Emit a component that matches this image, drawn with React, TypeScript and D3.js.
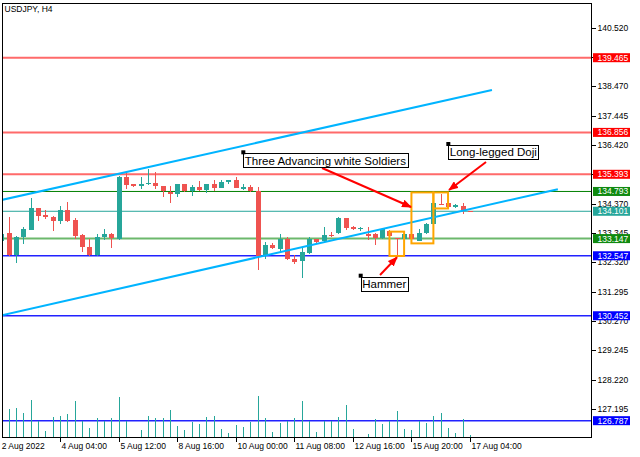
import { useEffect } from "react";
import * as d3 from "d3";

// USDJPY H4, 2 Aug 20:00 .. 17 Aug 04:00 (65 bars)
const symbol = "USDJPY, H4";

const opens = [
  133.07, 133.33, 132.57, 133.19, 133.45, 134.2, 133.96, 133.91, 133.77, 134.15,
  133.8, 133.27, 132.84, 132.57, 133.19, 133.31, 133.13, 135.29, 135.04, 134.98,
  135.04, 135.08, 134.98, 134.76, 134.69, 135.05, 134.81, 134.94, 134.84, 135.05,
  134.93, 135.11, 135.19, 134.89, 134.94, 134.81, 132.56, 132.94, 132.79, 133.13,
  132.43, 132.36, 132.63, 133.13, 133.06, 133.27, 133.35, 133.86, 133.56, 133.49,
  133.3, 133.3, 133.16, 133.4, 133.16, 133.13, 133.3, 133.08, 133.33, 133.65,
  134.36, 134.38, 134.24, 134.27, 134.11,
];
const highs = [
  133.33, 133.91, 133.25, 133.54, 134.55, 134.22, 134.15, 133.93, 134.3, 134.41,
  133.88, 133.3, 133.13, 133.31, 133.47, 133.33, 135.33, 135.46, 135.06, 135.29,
  135.58, 135.46, 134.99, 134.98, 135.07, 135.07, 135.02, 135.16, 135.07, 135.19,
  135.19, 135.21, 135.29, 135.06, 135.02, 134.95, 133.02, 132.98, 133.29, 133.21,
  132.57, 132.81, 133.21, 133.15, 133.54, 133.39, 133.91, 133.88, 133.58, 133.56,
  133.56, 133.33, 133.51, 133.45, 133.18, 133.33, 133.33, 133.47, 133.68, 134.4,
  134.69, 134.4, 134.36, 134.4, 134.12,
];
const lows = [
  133.05, 132.54, 132.3, 132.96, 133.44, 133.77, 133.82, 133.42, 133.67, 133.74,
  133.13, 132.69, 132.54, 132.55, 133.1, 132.83, 133.1, 134.87, 134.96, 134.87,
  135.03, 134.87, 134.59, 134.38, 134.61, 134.79, 134.65, 134.82, 134.73, 134.81,
  134.91, 135.04, 134.91, 134.84, 134.79, 132.05, 132.43, 132.8, 132.69, 132.41,
  132.25, 131.76, 132.6, 132.98, 133.03, 133.22, 133.3, 133.45, 133.45, 133.42,
  133.1, 132.93, 133.13, 133.15, 132.55, 133.1, 133.1, 133.05, 133.3, 133.62,
  134.31, 134.22, 134.22, 134.01, 134.09,
];
const closes = [
  133.31, 132.57, 133.21, 133.47, 134.2, 133.94, 133.89, 133.77, 134.15, 133.76,
  133.25, 132.84, 132.57, 133.21, 133.31, 133.16, 135.29, 135.02, 134.98, 135.05,
  135.08, 134.98, 134.81, 134.69, 135.05, 134.81, 134.94, 134.84, 135.05, 134.9,
  135.13, 135.19, 134.93, 134.94, 134.81, 132.54, 132.91, 132.83, 133.13, 132.43,
  132.34, 132.67, 133.13, 133.02, 133.27, 133.24, 133.86, 133.51, 133.47, 133.51,
  133.25, 133.16, 133.47, 133.24, 133.13, 133.3, 133.13, 133.35, 133.65, 134.38,
  134.34, 134.24, 134.31, 134.13, 134.1,
];
const volumes = [
  5000, 7180, 7350, 6250, 9430, 4180, 1680, 5250, 5500, 5930,
  9180, 4250, 2500, 5000, 4250, 4850, 10100, 4250, 250, 1930,
  5500, 5000, 5000, 6930, 3000, 1930, 3850, 3430, 5250, 5500,
  2100, 1250, 3180, 2750, 3850, 10500, 4850, 1350, 3750, 4180,
  4850, 9180, 4180, 1350, 4180, 4180, 5250, 8180, 2100, 250,
  930, 4600, 3430, 4180, 6680, 2180, 1930, 4180, 3600, 5500,
  6100, 2500, 1250, 4600, 680,
];

const firstTimeLabel = "2 Aug 2022";
const timeTickIndex = [8, 16, 24, 32, 40, 48, 56, 64];
const timeTickLabels = [
  "4 Aug 04:00", "5 Aug 12:00", "8 Aug 16:00", "10 Aug 00:00",
  "11 Aug 08:00", "12 Aug 16:00", "15 Aug 20:00", "17 Aug 04:00",
];
const priceTicks = [
  140.52, 139.495, 138.47, 137.445, 136.42, 135.395, 134.37, 133.345, 132.32,
  131.295, 130.27, 129.245, 128.22, 127.195,
];

const redLevels = [139.465, 136.856, 135.393];
const darkGreenLevels = [134.793];
const tealLevels = [134.101];
const lightGreenLevels = [133.147];
const blueLevels = [132.547, 130.452, 126.787];

// channel lines: [barIndex, price]
const channelUpper = [[0, 134.495], [67, 138.337]];
const channelLower = [[0, 130.468], [76, 134.872]];

// pattern boxes: [fromBar, toBar, topPrice, bottomPrice]
const patternBoxes = [
  [53, 55, 133.39, 132.54],
  [56, 59, 134.76, 132.98],
  [59, 61, 134.76, 134.2],
];

const labelTexts = ["Three Advancing white Soldiers", "Long-legged Doji", "Hammer"];
const labelAnchors = [[33.04, 136.126], [61.04, 136.416], [49.07, 131.816]];

// arrows: [fromBar, fromPrice, toBar, toPrice]
const arrows = [
  [43.79, 135.613, 55.95, 134.25],
  [66.19, 135.822, 61.14, 134.844],
  [51.71, 131.875, 54.03, 132.493],
];

const W = 640;
const H = 457;
const plot = { left: 2, top: 3, right: 592, bottom: 437.7 };
const BULL = "#26A69A";
const BEAR = "#EF5350";
const axisFont = "'Liberation Sans', Arial, sans-serif";

let measureCtx: CanvasRenderingContext2D | null = null;
function textWidth(t: string, font: string) {
  if (!measureCtx) measureCtx = document.createElement("canvas").getContext("2d");
  if (!measureCtx) return t.length * 6;
  measureCtx.font = font;
  return measureCtx.measureText(t).width;
}

export default function App() {
  useEffect(() => {
    document.body.style.margin = "0";
  }, []);

  const x = d3.scaleLinear().domain([0, 64]).range([1.43, 470]);
  const y = d3.scaleLinear().domain([127.195, 140.52]).range([409, 27.5]);
  const yVol = d3.scaleLinear().domain([0, 10500]).range([plot.bottom, 395.7]);
  const fmt = d3.format(".3f");
  const line = d3
    .line<number[]>()
    .x((d) => x(d[0]))
    .y((d) => y(d[1]));

  const levelGroups = [
    { prices: redLevels, stroke: "#FF6A6A", width: 2, bg: "#FF0000" },
    { prices: darkGreenLevels, stroke: "#008000", width: 1, bg: "#108A10" },
    { prices: tealLevels, stroke: "#26A69A", width: 1, bg: "#26A69A" },
    { prices: lightGreenLevels, stroke: "#6CB86C", width: 2, bg: "#108A10" },
    { prices: blueLevels, stroke: "#2222FF", width: 1.4, bg: "#0000FF" },
  ];

  const annFont = "11.5px 'Liberation Sans', Arial, sans-serif";

  return (
    <svg width={W} height={H} style={{ display: "block", background: "#fff" }}>
      <defs>
        <clipPath id="plotClip">
          <rect
            x={plot.left}
            y={plot.top}
            width={plot.right - plot.left}
            height={plot.bottom - plot.top}
          />
        </clipPath>
        <marker
          id="arrowHead"
          viewBox="0 0 10 8"
          refX="9"
          refY="4"
          markerWidth="10"
          markerHeight="8"
          markerUnits="userSpaceOnUse"
          orient="auto"
        >
          <path d="M0,0 L10,4 L0,8 Z" fill="#FF0000" />
        </marker>
      </defs>

      <text x={4.5} y={11.7} fontFamily={axisFont} fontSize={8.5} fill="#000">
        {symbol}
      </text>

      <g clipPath="url(#plotClip)">
        {/* horizontal levels */}
        {levelGroups.map((g, gi) =>
          g.prices.map((p, i) => (
            <line
              key={`lv${gi}-${i}`}
              x1={plot.left}
              x2={plot.right}
              y1={y(p)}
              y2={y(p)}
              stroke={g.stroke}
              strokeWidth={g.width}
            />
          ))
        )}

        {/* volumes */}
        <g shapeRendering="crispEdges">
          {volumes.map((v, i) => {
            const cx = Math.round(x(i)) + 0.5;
            return (
              <line
                key={`v${i}`}
                x1={cx}
                x2={cx}
                y1={plot.bottom}
                y2={yVol(v)}
                stroke={BULL}
                strokeWidth={1}
              />
            );
          })}
        </g>

        {/* candles */}
        <g shapeRendering="crispEdges">
          {opens.map((o, i) => {
            const c = closes[i];
            const col = c >= o ? BULL : BEAR;
            const cx = Math.round(x(i));
            const top = y(Math.max(o, c));
            const bot = y(Math.min(o, c));
            return (
              <g key={`c${i}`}>
                <line
                  x1={cx + 0.5}
                  x2={cx + 0.5}
                  y1={y(highs[i])}
                  y2={y(lows[i])}
                  stroke={col}
                  strokeWidth={1}
                />
                <rect
                  x={cx - 2}
                  y={top}
                  width={5}
                  height={Math.max(1, bot - top)}
                  fill={col}
                />
              </g>
            );
          })}
        </g>

        {/* channel */}
        <path d={line(channelUpper) || ""} stroke="#00B4FF" strokeWidth={2} fill="none" />
        <path d={line(channelLower) || ""} stroke="#00B4FF" strokeWidth={2} fill="none" />

        {/* pattern boxes */}
        {patternBoxes.map((b, i) => (
          <rect
            key={`pb${i}`}
            x={x(b[0])}
            y={y(b[2])}
            width={x(b[1]) - x(b[0])}
            height={y(b[3]) - y(b[2])}
            fill="none"
            stroke="#FFA500"
            strokeWidth={2}
          />
        ))}

        {/* arrows */}
        {arrows.map((a, i) => (
          <line
            key={`ar${i}`}
            x1={x(a[0])}
            y1={y(a[1])}
            x2={x(a[2])}
            y2={y(a[3])}
            stroke="#FF0000"
            strokeWidth={2}
            markerEnd="url(#arrowHead)"
          />
        ))}

        {/* text labels */}
        {labelTexts.map((t, i) => {
          const ax = x(labelAnchors[i][0]);
          const ay = y(labelAnchors[i][1]);
          const w = textWidth(t, annFont) + 3;
          return (
            <g key={`lb${i}`}>
              <rect
                x={Math.round(ax) + 0.5}
                y={Math.round(ay) + 0.5}
                width={Math.round(w)}
                height={14}
                fill="#fff"
                stroke="#000"
                strokeWidth={1}
              />
              <text
                x={ax + 1.5}
                y={ay + 11.5}
                fontFamily="'Liberation Sans', Arial, sans-serif"
                fontSize={11.5}
                fill="#000"
              >
                {t}
              </text>
              <rect x={ax - 2} y={ay - 3} width={4} height={4} fill="#000" />
            </g>
          );
        })}
      </g>

      {/* frame */}
      <rect
        x={plot.left + 0.5}
        y={plot.top + 0.5}
        width={plot.right - plot.left - 1}
        height={plot.bottom - plot.top - 0.5}
        fill="none"
        stroke="#000"
        strokeWidth={1}
        shapeRendering="crispEdges"
      />

      {/* price axis */}
      <g fontFamily={axisFont} fontSize={8.5} fill="#000">
        {priceTicks.map((p, i) => (
          <g key={`pt${i}`}>
            <line
              x1={plot.right}
              x2={plot.right + 4}
              y1={Math.round(y(p)) + 0.5}
              y2={Math.round(y(p)) + 0.5}
              stroke="#000"
              shapeRendering="crispEdges"
            />
            <text x={597.5} y={y(p) + 3}>
              {fmt(p)}
            </text>
          </g>
        ))}
        {levelGroups.map((g, gi) =>
          g.prices.map((p, i) => (
            <g key={`ll${gi}-${i}`}>
              <rect x={593} y={y(p) - 4.5} width={37} height={9} fill={g.bg} />
              <text x={597.5} y={y(p) + 3} fill="#fff">
                {fmt(p)}
              </text>
            </g>
          ))
        )}
      </g>

      {/* time axis */}
      <g fontFamily={axisFont} fontSize={8.5} fill="#000">
        <text x={1.7} y={449.3}>
          {firstTimeLabel}
        </text>
        {timeTickIndex.map((ti, i) => {
          const tx = Math.round(x(ti)) + 0.5;
          return (
            <g key={`tt${i}`}>
              <line
                x1={tx}
                x2={tx}
                y1={plot.bottom}
                y2={plot.bottom + 4}
                stroke="#000"
                shapeRendering="crispEdges"
              />
              <text x={tx + 1} y={449.3}>
                {timeTickLabels[i]}
              </text>
            </g>
          );
        })}
      </g>
    </svg>
  );
}
